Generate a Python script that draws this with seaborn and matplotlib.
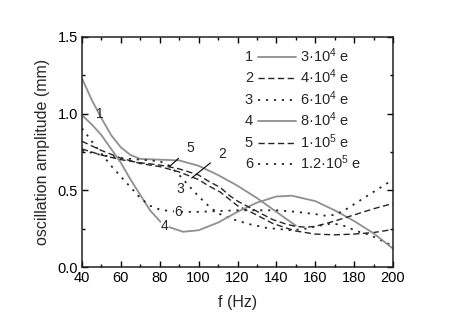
import numpy as np
import pandas as pd
import matplotlib
matplotlib.use("Agg")
import matplotlib.pyplot as plt
from matplotlib.lines import Line2D
from matplotlib.text import Text
from matplotlib.legend_handler import HandlerBase
import seaborn as sns

# values
f_1 = [40, 45, 50, 55, 60, 65, 70, 80, 90, 100, 110, 120, 130, 140, 150]
amp_1 = [1.23, 1.09, 0.97, 0.86, 0.78, 0.73, 0.705, 0.70, 0.695, 0.66, 0.60, 0.53, 0.45, 0.36, 0.27]

f_2 = [40, 50, 60, 70, 80, 90, 100, 105, 111, 116, 120, 129, 138, 145, 150, 160, 170, 180, 190, 200]
amp_2 = [0.82, 0.76, 0.71, 0.675, 0.655, 0.62, 0.57, 0.53, 0.49, 0.44, 0.40, 0.345, 0.285, 0.255, 0.235,
         0.215, 0.21, 0.215, 0.225, 0.245]

f_3 = [40, 50, 60, 70, 80, 85, 90, 95, 100, 105, 110, 118, 126, 135, 148, 155, 162, 169, 176, 181, 188, 197, 200]
amp_3 = [0.76, 0.73, 0.71, 0.70, 0.69, 0.66, 0.60, 0.53, 0.46, 0.40, 0.35, 0.31, 0.28, 0.255, 0.24, 0.25,
         0.27, 0.285, 0.265, 0.235, 0.21, 0.155, 0.14]

f_4 = [40, 45, 50, 55, 60, 65, 70, 75, 80, 85, 92, 100, 110, 120, 130, 140, 148, 160, 170, 180, 190, 200]
amp_4 = [0.99, 0.93, 0.86, 0.77, 0.68, 0.57, 0.47, 0.37, 0.30, 0.26, 0.23, 0.24, 0.29, 0.36, 0.42, 0.46,
         0.465, 0.43, 0.37, 0.30, 0.22, 0.12]

f_5 = [40, 50, 60, 70, 80, 90, 100, 105, 111, 116, 120, 129, 138, 145, 150, 155, 160, 170, 180, 190, 200]
amp_5 = [0.77, 0.73, 0.70, 0.68, 0.665, 0.64, 0.60, 0.56, 0.52, 0.465, 0.43, 0.37, 0.31, 0.28, 0.265,
         0.26, 0.265, 0.30, 0.34, 0.38, 0.415]

f_6 = [40, 45, 50, 55, 60, 65, 70, 75, 80, 85, 90, 100, 110, 120, 130, 140, 150, 160, 165, 170, 175, 180, 190, 200]
amp_6 = [0.905, 0.82, 0.74, 0.66, 0.59, 0.52, 0.45, 0.40, 0.375, 0.365, 0.36, 0.36, 0.365, 0.37, 0.37,
         0.37, 0.36, 0.345, 0.335, 0.34, 0.37, 0.41, 0.49, 0.57]

curve_ids = ["1", "2", "3", "4", "5", "6"]
legend_labels = ["3·10$^4$ e", "4·10$^4$ e", "6·10$^4$ e", "8·10$^4$ e", "1·10$^5$ e", "1.2·10$^5$ e"]

xs = [f_1, f_2, f_3, f_4, f_5, f_6]
ys = [amp_1, amp_2, amp_3, amp_4, amp_5, amp_6]

gray = "#8f8f8f"
dark = "#262626"
styles = [
    dict(color=gray, linestyle="-", linewidth=1.3),
    dict(color=dark, linestyle=(0, (4.5, 2.5)), linewidth=1.0),
    dict(color=dark, linestyle=(0, (1.2, 3.2)), linewidth=1.3),
    dict(color=gray, linestyle="-", linewidth=1.3),
    dict(color=dark, linestyle=(0, (4.5, 2.5)), linewidth=1.0),
    dict(color=dark, linestyle=(0, (1.2, 3.2)), linewidth=1.3),
]


class NumberedLine:
    def __init__(self, num, style):
        self.num = num
        self.style = style


class HandlerNumberedLine(HandlerBase):
    # draws "n ——" inside the legend handle box
    def create_artists(self, legend, orig_handle, xdescent, ydescent, width, height, fontsize, trans):
        num_w = fontsize * 0.9
        txt = Text(-xdescent, height / 2 - ydescent, orig_handle.num, fontsize=fontsize,
                   ha="left", va="center", transform=trans)
        y = height / 2 - ydescent
        ln = Line2D([-xdescent + num_w, -xdescent + width], [y, y], transform=trans, **orig_handle.style)
        return [txt, ln]


sns.set_style("ticks")
plt.rcParams["font.family"] = ["Liberation Sans", "DejaVu Sans"]
plt.rcParams["mathtext.fontset"] = "custom"
plt.rcParams["mathtext.rm"] = "Liberation Sans"
plt.rcParams["mathtext.default"] = "regular"

fig = plt.figure(figsize=(4.57, 3.21), dpi=100)
ax = fig.add_axes([0.1794, 0.168, 0.6806, 0.717])

for cid, x, y, st in zip(curve_ids, xs, ys, styles):
    df = pd.DataFrame({"f": x, "amp": y})
    sns.lineplot(data=df, x="f", y="amp", ax=ax, sort=False, **st)

ax.set_xlim(40, 200)
ax.set_ylim(0, 1.5)
ax.set_xticks(np.arange(40, 201, 20))
ax.set_xticks(np.arange(50, 200, 20), minor=True)
ax.set_yticks([0.0, 0.5, 1.0, 1.5])
ax.set_yticks([0.25, 0.75, 1.25], minor=True)
ax.yaxis.set_major_formatter(matplotlib.ticker.FormatStrFormatter("%.1f"))
ax.tick_params(which="both", direction="in", top=True, right=True, labelsize=10.5, width=1, colors="black")
ax.tick_params(which="major", length=4.5, pad=3)
ax.tick_params(which="minor", length=2.5)
for sp in ax.spines.values():
    sp.set_linewidth(1.1)
    sp.set_color("#222222")

ax.set_xlabel("f (Hz)", fontsize=11.5, labelpad=7)
ax.set_ylabel("oscillation amplitude (mm)", fontsize=11.5, labelpad=5)

# curve numbers inside the plot
ax.text(49.3, 1.0, "1", fontsize=10, ha="center", va="center")
ax.annotate("5", xy=(85, 0.655), xytext=(95.5, 0.775), fontsize=10, ha="center", va="center",
            arrowprops=dict(arrowstyle="-", lw=0.8, color="black", shrinkA=4, shrinkB=0))
ax.annotate("2", xy=(96.4, 0.58), xytext=(112, 0.74), fontsize=10, ha="center", va="center",
            arrowprops=dict(arrowstyle="-", lw=0.8, color="black", shrinkA=4, shrinkB=0))
ax.text(90.4, 0.51, "3", fontsize=10, ha="center", va="center")
ax.text(89.4, 0.36, "6", fontsize=10, ha="center", va="center",
        bbox=dict(facecolor="white", edgecolor="none", pad=0.3))
ax.text(82.7, 0.27, "4", fontsize=10, ha="center", va="center",
        bbox=dict(facecolor="white", edgecolor="none", pad=0.3))

handles = [NumberedLine(n, st) for n, st in zip(curve_ids, styles)]
ax.legend(handles, legend_labels, handler_map={NumberedLine: HandlerNumberedLine()},
          loc="upper left", bbox_to_anchor=(0.505, 0.985), frameon=False,
          fontsize=10.5, handlelength=3.5, handletextpad=0.25, labelspacing=0.2, borderaxespad=0)

fig.savefig("out.png", dpi=100)
